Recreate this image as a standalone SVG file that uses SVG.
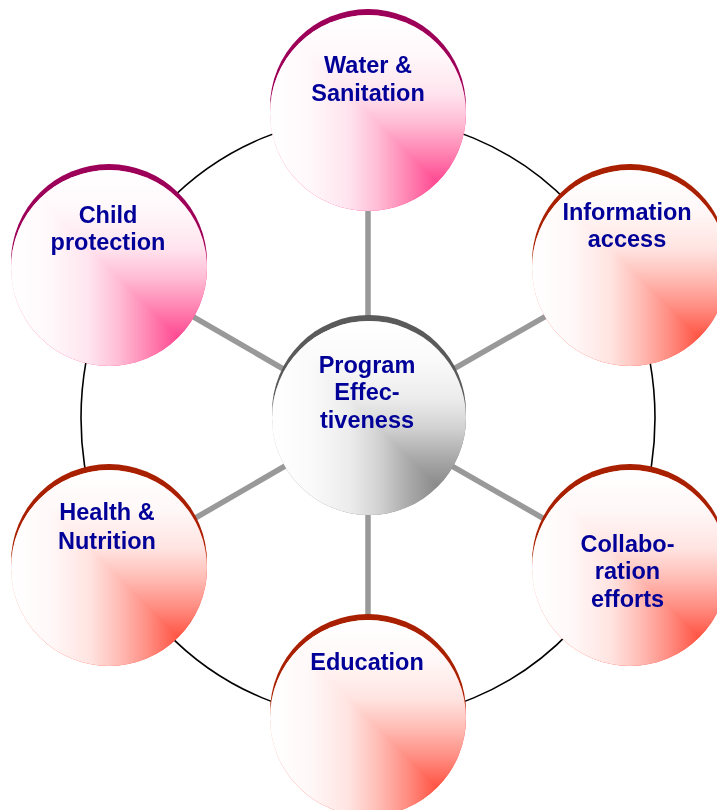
<svg xmlns="http://www.w3.org/2000/svg" width="717" height="810" viewBox="0 0 717 810">
<defs>
<linearGradient id="pinkH" x1="0" y1="0" x2="1" y2="0"><stop offset="0" stop-color="#ffffff"/><stop offset="0.2" stop-color="#fff8fb"/><stop offset="0.4" stop-color="#ffe4ee"/><stop offset="0.55" stop-color="#ffbcd5"/><stop offset="0.7" stop-color="#ff85b2"/><stop offset="0.85" stop-color="#ff4a93"/><stop offset="1" stop-color="#ff3388"/></linearGradient>
<linearGradient id="pinkV" x1="0" y1="0" x2="0" y2="1"><stop offset="0" stop-color="#ffffff"/><stop offset="0.2" stop-color="#fff8fb"/><stop offset="0.4" stop-color="#ffe4ee"/><stop offset="0.55" stop-color="#ffbcd5"/><stop offset="0.7" stop-color="#ff85b2"/><stop offset="0.85" stop-color="#ff4a93"/><stop offset="1" stop-color="#ff3388"/></linearGradient>
<linearGradient id="redH" x1="0" y1="0" x2="1" y2="0"><stop offset="0" stop-color="#ffffff"/><stop offset="0.2" stop-color="#fff8f8"/><stop offset="0.4" stop-color="#ffe4e1"/><stop offset="0.55" stop-color="#ffbdb6"/><stop offset="0.7" stop-color="#ff8d82"/><stop offset="0.85" stop-color="#ff5544"/><stop offset="1" stop-color="#ff4433"/></linearGradient>
<linearGradient id="redV" x1="0" y1="0" x2="0" y2="1"><stop offset="0" stop-color="#ffffff"/><stop offset="0.2" stop-color="#fff8f8"/><stop offset="0.4" stop-color="#ffe4e1"/><stop offset="0.55" stop-color="#ffbdb6"/><stop offset="0.7" stop-color="#ff8d82"/><stop offset="0.85" stop-color="#ff5544"/><stop offset="1" stop-color="#ff4433"/></linearGradient>
<linearGradient id="grayH" x1="0" y1="0" x2="1" y2="0"><stop offset="0" stop-color="#ffffff"/><stop offset="0.2" stop-color="#fafafa"/><stop offset="0.4" stop-color="#ececec"/><stop offset="0.55" stop-color="#d2d2d2"/><stop offset="0.7" stop-color="#ababab"/><stop offset="0.85" stop-color="#8a8a8a"/><stop offset="1" stop-color="#7d7d7d"/></linearGradient>
<linearGradient id="grayV" x1="0" y1="0" x2="0" y2="1"><stop offset="0" stop-color="#ffffff"/><stop offset="0.2" stop-color="#fafafa"/><stop offset="0.4" stop-color="#ececec"/><stop offset="0.55" stop-color="#d2d2d2"/><stop offset="0.7" stop-color="#ababab"/><stop offset="0.85" stop-color="#8a8a8a"/><stop offset="1" stop-color="#7d7d7d"/></linearGradient>
</defs>
<style>
.node{isolation:isolate}
.blend{mix-blend-mode:lighten}
.rim-pink{fill:#9c0058}
.rim-red{fill:#a82000}
.rim-gray{fill:#5a5a5a}
text{font-family:"Liberation Sans",Arial,sans-serif;font-weight:bold;font-size:23.5px;fill:#000099;text-anchor:middle}
</style>
<g id="connectors">
<ellipse cx="368" cy="418" rx="287" ry="301" fill="none" stroke="#000" stroke-width="1.6"/>
<g stroke="#999999" stroke-width="5.5">
<line x1="368" y1="418" x2="368" y2="113"/>
<line x1="368" y1="418" x2="368" y2="718"/>
<line x1="368" y1="418" x2="109" y2="268"/>
<line x1="368" y1="418" x2="630" y2="268"/>
<line x1="368" y1="418" x2="109" y2="568"/>
<line x1="368" y1="418" x2="630" y2="568"/>
</g>
</g>
<g id="water" class="node">
<circle class="rim-pink" cx="368" cy="107" r="98"/>
<circle cx="368" cy="113" r="98" fill="url(#pinkH)"/>
<circle class="blend" cx="368" cy="113" r="98" fill="url(#pinkV)"/>
<text x="368" y="73">Water &amp;</text>
<text x="368" y="101">Sanitation</text>
</g>
<g id="child" class="node">
<circle class="rim-pink" cx="109" cy="262" r="98"/>
<circle cx="109" cy="268" r="98" fill="url(#pinkH)"/>
<circle class="blend" cx="109" cy="268" r="98" fill="url(#pinkV)"/>
<text x="108" y="223">Child</text>
<text x="108" y="250">protection</text>
</g>
<g id="info" class="node">
<circle class="rim-red" cx="630" cy="262" r="98"/>
<circle cx="630" cy="268" r="98" fill="url(#redH)"/>
<circle class="blend" cx="630" cy="268" r="98" fill="url(#redV)"/>
<text x="627" y="220">Information</text>
<text x="627" y="247">access</text>
</g>
<g id="health" class="node">
<circle class="rim-red" cx="109" cy="562" r="98"/>
<circle cx="109" cy="568" r="98" fill="url(#redH)"/>
<circle class="blend" cx="109" cy="568" r="98" fill="url(#redV)"/>
<text x="107" y="520">Health &amp;</text>
<text x="107" y="549">Nutrition</text>
</g>
<g id="collab" class="node">
<circle class="rim-red" cx="630" cy="562" r="98"/>
<circle cx="630" cy="568" r="98" fill="url(#redH)"/>
<circle class="blend" cx="630" cy="568" r="98" fill="url(#redV)"/>
<text x="627.5" y="552">Collabo-</text>
<text x="627.5" y="579">ration</text>
<text x="627.5" y="607">efforts</text>
</g>
<g id="education" class="node">
<circle class="rim-red" cx="368" cy="712" r="98"/>
<circle cx="368" cy="718" r="98" fill="url(#redH)"/>
<circle class="blend" cx="368" cy="718" r="98" fill="url(#redV)"/>
<text x="367" y="670">Education</text>
</g>
<g id="center" class="node">
<circle class="rim-gray" cx="369" cy="412" r="97"/>
<circle cx="369" cy="418" r="97" fill="url(#grayH)"/>
<circle class="blend" cx="369" cy="418" r="97" fill="url(#grayV)"/>
<text x="367" y="373">Program</text>
<text x="367" y="400">Effec-</text>
<text x="367" y="428">tiveness</text>
</g>
</svg>
